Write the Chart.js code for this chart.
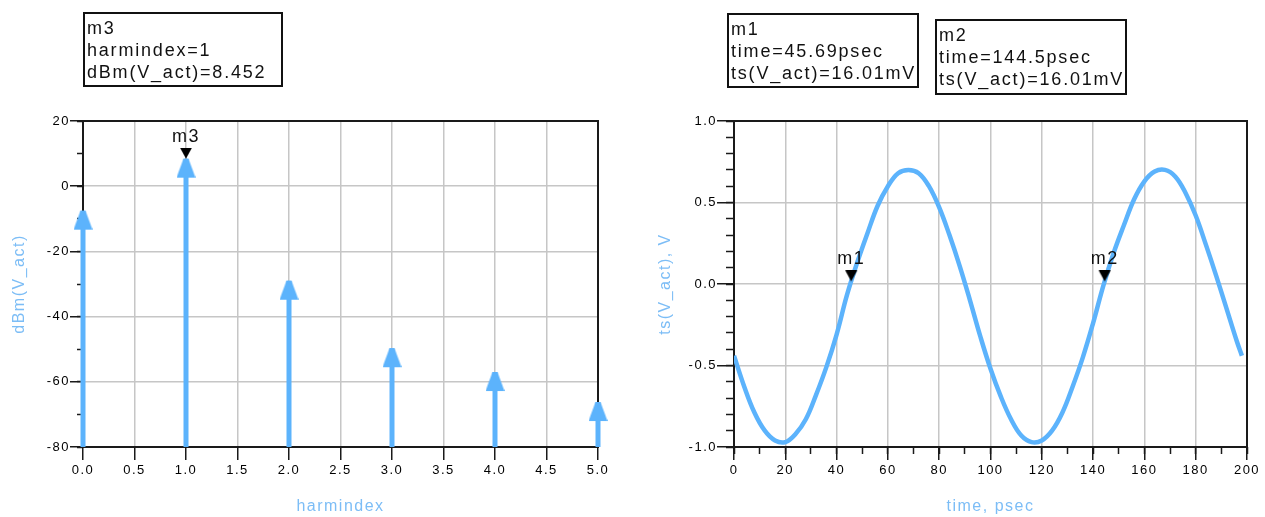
<!DOCTYPE html>
<html>
<head>
<meta charset="utf-8">
<title>Armonicos y forma de onda</title>
<script src="https://cdn.jsdelivr.net/npm/chart.js@4.4.1/dist/chart.umd.min.js"></script>
<style>
  body {
    margin: 0;
    width: 1265px;
    height: 517px;
    position: relative;
    overflow: hidden;
    background: #fff;
    font-family: "Liberation Sans", Arial, sans-serif;
  }
  canvas { position: absolute; top: 0; }
  #graficoArmonicos { left: 0; }
  #graficoTiempo { left: 632px; }
  .marcador {
    position: absolute;
    box-sizing: border-box;
    border: 2px solid #111;
    padding: 3px 0 0 2px;
    font-size: 18px;
    line-height: 22px;
    letter-spacing: 1.8px;
    color: #111;
    white-space: pre;
  }
</style>
</head>
<body>
<canvas id="graficoArmonicos" width="632" height="517"></canvas>
<canvas id="graficoTiempo" width="633" height="517"></canvas>
<div class="marcador" id="cajaM3" style="left:83px;top:12px;width:200px;height:75px"></div>
<div class="marcador" id="cajaM1" style="left:727px;top:13px;width:192px;height:75px"></div>
<div class="marcador" id="cajaM2" style="left:935px;top:19px;width:192px;height:76px"></div>

<script>
// espectro: dBm(V_act) por armonico
const harmIndex = [0, 1, 2, 3, 4, 5];
const harmDbm = [-7.5, 8.452, -29.0, -49.7, -57.0, -66.2];

// marcador del espectro
const m3Nombre = "m3";
const m3Index = 1;
const m3Dbm = 8.452;

// forma de onda ts(V_act)
const timePs = [
  0, 4, 8, 12, 16, 20, 24, 28, 32, 36,
  40, 44, 48, 52, 56, 60, 64, 68, 72, 76,
  80, 84, 88, 92, 96, 100, 104, 108, 112, 116,
  120, 124, 128, 132, 136, 140, 144, 148, 152, 156,
  160, 164, 168, 172, 176, 180, 184, 188, 192, 196, 198
];
const tsVolts = [
  -0.44, -0.63, -0.79, -0.90, -0.96, -0.97, -0.92, -0.83, -0.68, -0.51,
  -0.31, -0.07, 0.13, 0.31, 0.48, 0.60, 0.68, 0.70, 0.68, 0.60,
  0.47, 0.30, 0.11, -0.10, -0.32, -0.52, -0.69, -0.83, -0.93, -0.97,
  -0.96, -0.90, -0.79, -0.63, -0.45, -0.24, -0.01, 0.19, 0.36, 0.52,
  0.63, 0.69, 0.70, 0.66, 0.56, 0.42, 0.24, 0.05, -0.15, -0.35, -0.44
];

// marcadores de la forma de onda
const marcadorNombres = ["m1", "m2"];
const marcadorTiempos = [45.69, 144.5];
const marcadorVolts = [0.01601, 0.01601];

const AZUL = "#5cb3fc";
const AZUL_TITULO = "#7cbdf6";
const NEGRO = "#1a1a1a";
const GRIS = "#c6c6c6";
const FUENTE = "'Liberation Sans', Arial, sans-serif";

// cajas de texto de los marcadores
document.querySelector("#cajaM3").textContent =
  m3Nombre + "\nharmindex=" + m3Index + "\ndBm(V_act)=" + m3Dbm.toFixed(3);
["#cajaM1", "#cajaM2"].forEach((sel, i) => {
  document.querySelector(sel).textContent =
    marcadorNombres[i] + "\ntime=" + marcadorTiempos[i] + "psec" +
    "\nts(V_act)=" + (marcadorVolts[i] * 1000).toFixed(2) + "mV";
});

// punta de flecha azul: el extremo (romo, cubre el tallo) queda en el centro
function crearFlecha() {
  const c = document.createElement("canvas");
  c.width = 19;
  c.height = 40;
  const g = c.getContext("2d");
  g.fillStyle = AZUL;
  g.beginPath();
  g.moveTo(7, 20);
  g.lineTo(12, 20);
  g.lineTo(19, 39);
  g.lineTo(0, 39);
  g.closePath();
  g.fill();
  return c;
}

// triangulo negro del marcador, apuntando hacia abajo
function crearTriangulo() {
  const c = document.createElement("canvas");
  c.width = 14;
  c.height = 22;
  const g = c.getContext("2d");
  g.fillStyle = "#000";
  g.beginPath();
  g.moveTo(1, 0);
  g.lineTo(13, 0);
  g.lineTo(7, 11);
  g.closePath();
  g.fill();
  return c;
}

const flecha = crearFlecha();
const triangulo = crearTriangulo();

const espaciado = {
  id: "espaciado",
  beforeDraw(chart) {
    chart.ctx.letterSpacing = "1.5px";
  }
};

const marco = {
  id: "marco",
  beforeDatasetsDraw(chart) {
    const { ctx, chartArea: a } = chart;
    ctx.save();
    ctx.strokeStyle = NEGRO;
    ctx.lineWidth = 2;
    ctx.strokeRect(a.left, a.top, a.right - a.left, a.bottom - a.top);
    ctx.restore();
  }
};

const etiquetasMarcador = {
  id: "etiquetasMarcador",
  afterDatasetsDraw(chart) {
    const ctx = chart.ctx;
    chart.data.datasets.forEach((ds, i) => {
      if (!ds.nombres) return;
      chart.getDatasetMeta(i).data.forEach((pt, j) => {
        ctx.save();
        ctx.font = "18px " + FUENTE;
        ctx.fillStyle = "#111";
        ctx.textAlign = "center";
        ctx.textBaseline = "alphabetic";
        ctx.fillText(ds.nombres[j], pt.x, pt.y - 17);
        ctx.restore();
      });
    });
  }
};

function ejePrincipal(cfg) {
  return {
    type: "linear",
    position: cfg.position,
    min: cfg.min,
    max: cfg.max,
    weight: 1,
    ticks: {
      stepSize: cfg.paso,
      autoSkip: false,
      maxRotation: 0,
      padding: cfg.padding,
      color: "#000",
      font: { family: FUENTE, size: 13 },
      callback: cfg.formato
    },
    grid: {
      color: GRIS,
      lineWidth: 1.5,
      tickColor: NEGRO,
      tickWidth: 1.5,
      tickLength: cfg.marca
    },
    border: { display: false },
    title: {
      display: true,
      text: cfg.titulo,
      color: AZUL_TITULO,
      font: { family: FUENTE, size: 16 },
      padding: cfg.tituloPadding
    },
    afterFit: cfg.ajuste
  };
}

function ejeMenor(position, min, max, paso, marca) {
  return {
    type: "linear",
    position: position,
    min: min,
    max: max,
    weight: 0,
    ticks: { stepSize: paso, display: false },
    grid: {
      drawOnChartArea: false,
      tickColor: NEGRO,
      tickWidth: 1.5,
      tickLength: marca
    },
    border: { display: false },
    afterFit: (s) => {
      if (position === "left") s.width = 0;
      else s.height = 0;
    }
  };
}

const opcionesBase = {
  responsive: false,
  animation: false,
  devicePixelRatio: 1,
  events: [],
  plugins: { legend: { display: false }, tooltip: { enabled: false } }
};

// --- espectro de armonicos ---
const tallos = harmIndex.map((h, i) => ({
  data: [{ x: h, y: -80 }, { x: h, y: harmDbm[i] }],
  borderColor: AZUL,
  borderWidth: 5,
  borderCapStyle: "butt",
  pointStyle: flecha,
  pointRadius: (ctx) => (ctx.dataIndex === 1 ? 1 : 0),
  clip: false
}));

new Chart(document.getElementById("graficoArmonicos"), {
  type: "line",
  data: {
    datasets: [
      {
        data: [{ x: m3Index, y: m3Dbm }],
        nombres: [m3Nombre],
        showLine: false,
        pointStyle: triangulo,
        pointRadius: 1,
        clip: false,
        order: -1
      },
      ...tallos
    ]
  },
  options: {
    ...opcionesBase,
    layout: { padding: { left: 0, top: 121, right: 34, bottom: 0 } },
    scales: {
      x: ejePrincipal({
        position: "bottom", min: 0, max: 5, paso: 0.5, padding: 3, marca: 13,
        formato: (v) => v.toFixed(1), titulo: "harmindex",
        tituloPadding: { top: 0, bottom: 1 },
        ajuste: (s) => { s.height = 70; }
      }),
      y: ejePrincipal({
        position: "left", min: -80, max: 20, paso: 20, padding: 0, marca: 13,
        formato: (v) => String(v), titulo: "dBm(V_act)",
        tituloPadding: { top: 10, bottom: 0 },
        ajuste: (s) => { s.width = 83; }
      }),
      yMenor: ejeMenor("left", -80, 20, 10, 6)
    }
  },
  plugins: [espaciado, marco, etiquetasMarcador]
});

// --- forma de onda en el tiempo ---
new Chart(document.getElementById("graficoTiempo"), {
  type: "line",
  data: {
    datasets: [
      {
        data: marcadorTiempos.map((t, i) => ({ x: t, y: marcadorVolts[i] })),
        nombres: marcadorNombres,
        showLine: false,
        pointStyle: triangulo,
        pointRadius: 1,
        clip: false,
        order: -1
      },
      {
        data: timePs.map((t, i) => ({ x: t, y: tsVolts[i] })),
        borderColor: AZUL,
        borderWidth: 4.5,
        tension: 0.4,
        pointRadius: 0
      }
    ]
  },
  options: {
    ...opcionesBase,
    layout: { padding: { left: 0, top: 121, right: 18, bottom: 0 } },
    scales: {
      x: ejePrincipal({
        position: "bottom", min: 0, max: 200, paso: 20, padding: 3, marca: 13,
        formato: (v) => String(v), titulo: "time, psec",
        tituloPadding: { top: 0, bottom: 1 },
        ajuste: (s) => { s.height = 70; }
      }),
      xMenor: ejeMenor("bottom", 0, 200, 10, 7),
      y: ejePrincipal({
        position: "left", min: -1, max: 1, paso: 0.5, padding: 0, marca: 17,
        formato: (v) => v.toFixed(1), titulo: "ts(V_act), V",
        tituloPadding: { top: 24, bottom: 0 },
        ajuste: (s) => { s.width = 102; }
      }),
      yMenor: ejeMenor("left", -1, 1, 0.1, 8)
    }
  },
  plugins: [espaciado, marco, etiquetasMarcador]
});
</script>
</body>
</html>
